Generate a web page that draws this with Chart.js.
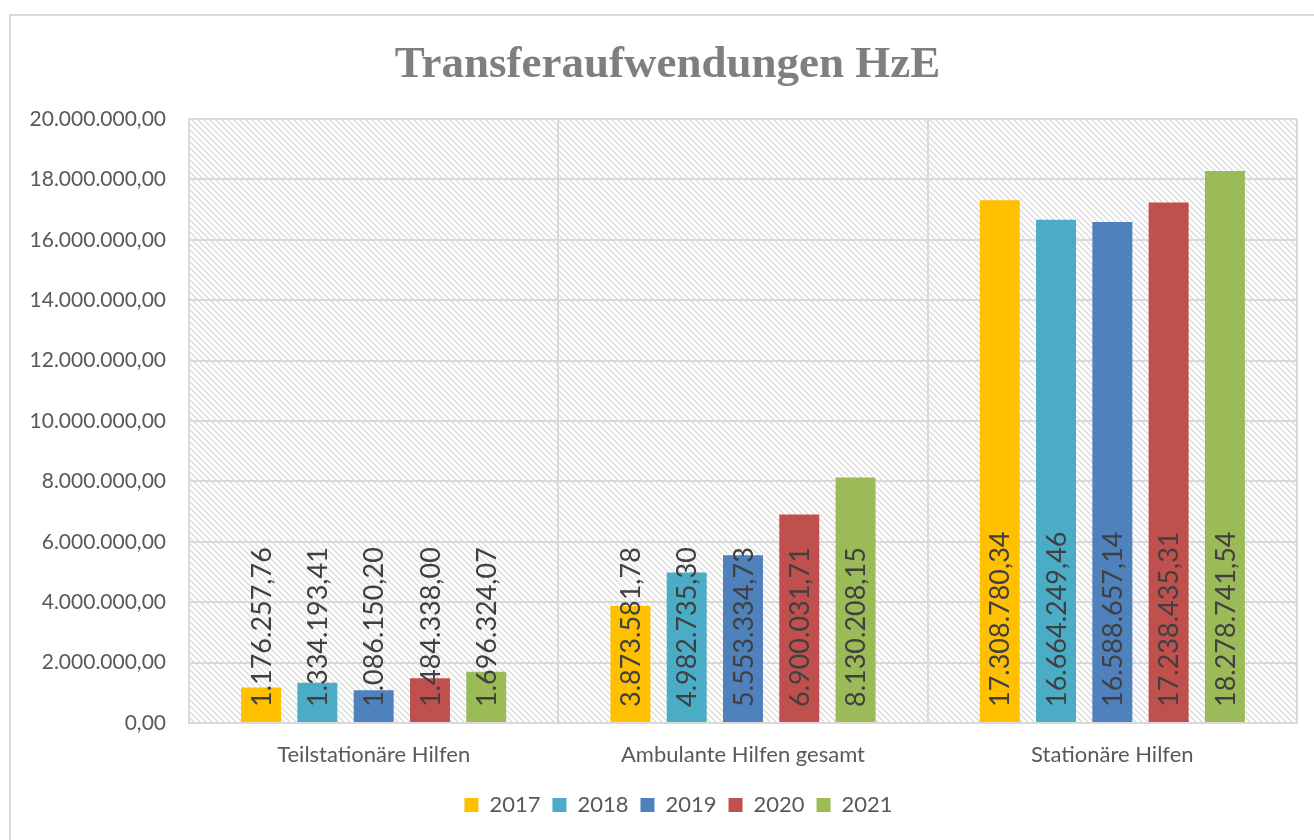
<!DOCTYPE html>
<html lang="de">
<head>
<meta charset="utf-8">
<title>Transferaufwendungen HzE</title>
<script src="https://cdn.jsdelivr.net/npm/chart.js@4"></script>
<style>
    html, body { margin: 0; padding: 0; background: #ffffff; }
    #wrap { position: relative; width: 1314px; height: 840px; }
</style>
</head>
<body>
<div id="wrap"><canvas id="hzeChart" width="1314" height="840"></canvas></div>
<script>
const categories = ["Teilstationäre Hilfen", "Ambulante Hilfen gesamt", "Stationäre Hilfen"];
const years = ["2017", "2018", "2019", "2020", "2021"];

// Transferaufwendungen je Jahr, Reihenfolge wie categories
const values2017 = [1176257.76, 3873581.78, 17308780.34];
const values2018 = [1334193.41, 4982735.30, 16664249.46];
const values2019 = [1086150.20, 5553334.73, 16588657.14];
const values2020 = [1484338.00, 6900031.71, 17238435.31];
const values2021 = [1696324.07, 8130208.15, 18278741.54];

const yearColors = ["#FFC000", "#4BACC6", "#4F81BD", "#C0504D", "#9BBB59"];
const yMax = 20000000;
const yStep = 2000000;

document.addEventListener("DOMContentLoaded", () => {
    const seriesValues = [values2017, values2018, values2019, values2020, values2021];

    // Zahl im deutschen Format, z.B. 1.176.257,76
    function formatDE(v) {
        const parts = v.toFixed(2).split(".");
        const intPart = parts[0].replace(/\B(?=(\d{3})+(?!\d))/g, ".");
        return intPart + "," + parts[1];
    }

    // Schraffur fuer den Zeichenbereich
    function makeHatch(ctx) {
        const tile = document.createElement("canvas");
        tile.width = 6;
        tile.height = 6;
        const t = tile.getContext("2d");
        t.fillStyle = "#ffffff";
        t.fillRect(0, 0, 6, 6);
        t.strokeStyle = "#dadada";
        t.lineWidth = 1.3;
        t.beginPath();
        t.moveTo(-1, -1); t.lineTo(7, 7);
        t.moveTo(-1, 5); t.lineTo(1, 7);
        t.moveTo(5, -1); t.lineTo(7, 1);
        t.stroke();
        return ctx.createPattern(tile, "repeat");
    }

    const backgroundPlugin = {
        id: "plotBackground",
        afterLayout(chart) {
            // Titel und Legende etwas nach rechts schieben
            chart.legend.left += 30;
            chart.legend.right += 30;
            chart.titleBlock.left += 19;
            chart.titleBlock.right += 19;
        },
        beforeDraw(chart) {
            const { ctx, chartArea } = chart;
            ctx.save();
            // Rahmen des Diagramms
            ctx.strokeStyle = "#d9d9d9";
            ctx.lineWidth = 2;
            ctx.beginPath();
            ctx.moveTo(10, 840);
            ctx.lineTo(10, 15);
            ctx.lineTo(1314, 15);
            ctx.stroke();
            ctx.fillStyle = makeHatch(ctx);
            ctx.fillRect(chartArea.left, chartArea.top, chartArea.right - chartArea.left, chartArea.bottom - chartArea.top);
            ctx.restore();
        }
    };

    // Werte senkrecht in die Balken schreiben
    const valueLabelPlugin = {
        id: "valueLabels",
        afterDatasetsDraw(chart) {
            const { ctx, chartArea } = chart;
            ctx.save();
            ctx.font = "27px Lato";
            ctx.fillStyle = "#404040";
            ctx.textAlign = "left";
            ctx.textBaseline = "middle";
            chart.data.datasets.forEach((ds, i) => {
                chart.getDatasetMeta(i).data.forEach((bar, j) => {
                    ctx.save();
                    ctx.translate(bar.x, chartArea.bottom - 16);
                    ctx.rotate(-Math.PI / 2);
                    ctx.fillText(formatDE(ds.data[j]), 0, 1);
                    ctx.restore();
                });
            });
            ctx.restore();
        }
    };

    const ctx = document.getElementById("hzeChart").getContext("2d");

    window.hzeChart = new Chart(ctx, {
        type: "bar",
        data: {
            labels: categories,
            datasets: years.map((year, i) => ({
                label: year,
                data: seriesValues[i],
                backgroundColor: yearColors[i],
                borderWidth: 0,
                categoryPercentage: 0.762,
                barPercentage: 0.71
            }))
        },
        options: {
            responsive: false,
            animation: false,
            layout: {
                padding: { left: 0, right: 17, top: 0, bottom: 14 }
            },
            plugins: {
                title: {
                    display: true,
                    text: "Transferaufwendungen HzE",
                    color: "#7f7f7f",
                    font: { family: "Liberation Serif", size: 45, weight: "bold" },
                    padding: { top: 38, bottom: 27 }
                },
                legend: {
                    position: "bottom",
                    labels: {
                        color: "#595959",
                        font: { family: "Lato", size: 22 },
                        boxWidth: 14,
                        boxHeight: 14,
                        padding: 12
                    }
                },
                tooltip: { enabled: false }
            },
            scales: {
                x: {
                    grid: {
                        offset: true,
                        color: "#d9d9d9",
                        lineWidth: 2,
                        drawTicks: false
                    },
                    border: { color: "#d9d9d9", width: 2 },
                    ticks: {
                        color: "#595959",
                        font: { family: "Lato", size: 22 },
                        padding: 19,
                        maxRotation: 0
                    },
                    afterFit: (scale) => { scale.height = 59; }
                },
                y: {
                    min: 0,
                    max: yMax,
                    grid: {
                        color: "#d9d9d9",
                        lineWidth: 2,
                        drawTicks: false
                    },
                    border: { color: "#d9d9d9", width: 2 },
                    ticks: {
                        stepSize: yStep,
                        color: "#595959",
                        font: { family: "Lato", size: 21 },
                        padding: 23,
                        callback: (v) => formatDE(v)
                    },
                    afterFit: (scale) => { scale.width = 189; }
                }
            }
        },
        plugins: [backgroundPlugin, valueLabelPlugin]
    });
});
</script>
</body>
</html>
